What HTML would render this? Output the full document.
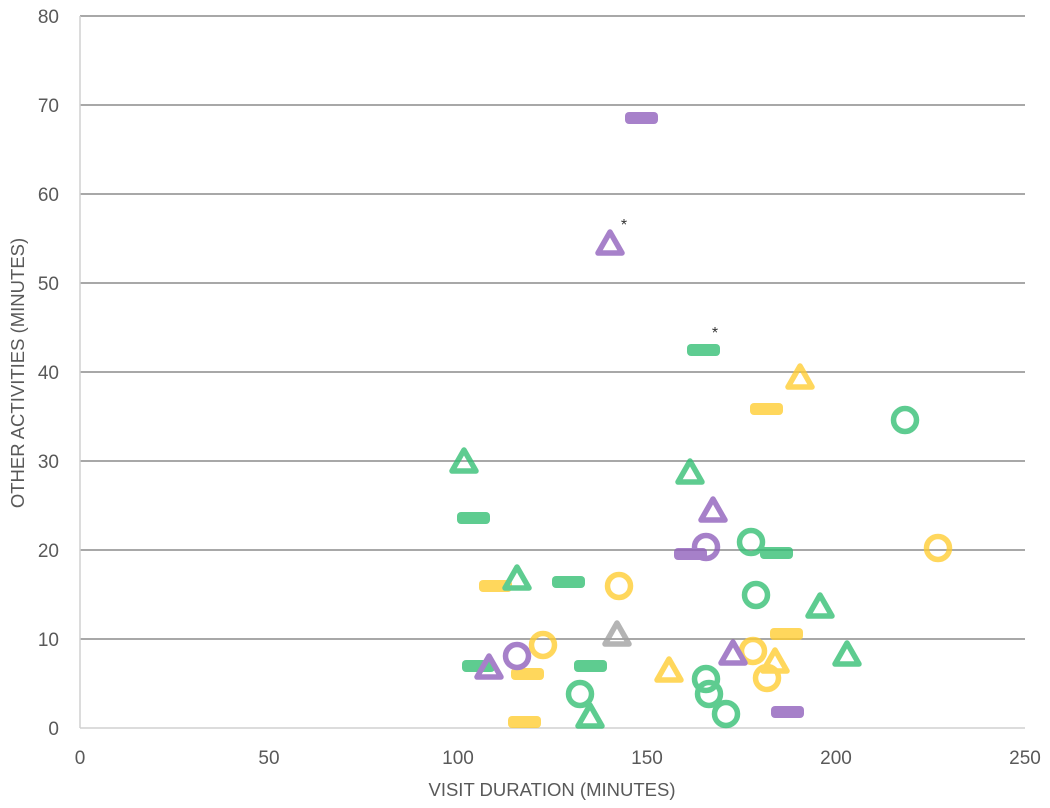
<!DOCTYPE html>
<html><head><meta charset="utf-8"><style>
html,body{margin:0;padding:0;background:#fff;}
svg{display:block;font-family:"Liberation Sans",sans-serif;}
</style></head><body>
<svg width="1050" height="808" viewBox="0 0 1050 808" xmlns="http://www.w3.org/2000/svg">
<g stroke="#8c8c8c" stroke-width="1.6">
<line x1="80" x2="1025" y1="16" y2="16"/><line x1="80" x2="1025" y1="105" y2="105"/>
<line x1="80" x2="1025" y1="194" y2="194"/><line x1="80" x2="1025" y1="283" y2="283"/>
<line x1="80" x2="1025" y1="372" y2="372"/><line x1="80" x2="1025" y1="461" y2="461"/>
<line x1="80" x2="1025" y1="550" y2="550"/><line x1="80" x2="1025" y1="639" y2="639"/>
</g>
<line x1="80" x2="1025" y1="728" y2="728" stroke="#d0d0d0" stroke-width="1.5"/>
<line x1="80" x2="80" y1="16" y2="728" stroke="#d0d0d0" stroke-width="1.5"/>
<g fill="#595959" font-size="19" text-anchor="end">
<text x="59" y="23">80</text><text x="59" y="112">70</text><text x="59" y="201">60</text>
<text x="59" y="290">50</text><text x="59" y="379">40</text><text x="59" y="468">30</text>
<text x="59" y="557">20</text><text x="59" y="646">10</text><text x="59" y="735">0</text>
</g>
<g fill="#595959" font-size="19" text-anchor="middle">
<text x="80" y="764">0</text><text x="269" y="764">50</text><text x="458" y="764">100</text>
<text x="647" y="764">150</text><text x="836" y="764">200</text><text x="1025" y="764">250</text>
</g>
<g fill="#595959" font-size="18.5" text-anchor="middle">
<text x="552" y="796">VISIT DURATION (MINUTES)</text>
<text transform="translate(24,373) rotate(-90)">OTHER ACTIVITIES (MINUTES)</text>
</g>
<g fill="#333" font-size="16" text-anchor="middle">
<text x="624" y="230">*</text><text x="715" y="338">*</text>
</g>
<g opacity="0.78">
<g fill="#8e5dbb">
<rect x="625" y="112" width="33" height="12" rx="4"/>
<rect x="674" y="548" width="33" height="12" rx="4"/>
<rect x="771" y="706" width="33" height="12" rx="4"/>
</g>
<g fill="#31be72">
<rect x="687" y="344" width="33" height="12" rx="4"/>
<rect x="457" y="512" width="33" height="12" rx="4"/>
<rect x="552" y="576" width="33" height="12" rx="4"/>
<rect x="574" y="660" width="33" height="12" rx="4"/>
<rect x="462" y="660" width="33" height="12" rx="4"/>
<rect x="760" y="547" width="33" height="12" rx="4"/>
</g>
<g fill="#ffcc2f">
<rect x="750" y="403" width="33" height="12" rx="4"/>
<rect x="479" y="580" width="33" height="12" rx="4"/>
<rect x="511" y="668" width="33" height="12" rx="4"/>
<rect x="770" y="628" width="33" height="12" rx="4"/>
<rect x="508" y="716" width="33" height="12" rx="4"/>
</g>
<g fill="none" stroke-width="5.5">
<g stroke="#8e5dbb"><circle cx="706" cy="547" r="11.5"/><circle cx="517" cy="656" r="11.5"/></g>
<g stroke="#31be72">
<circle cx="905" cy="420" r="11.5"/><circle cx="751" cy="542" r="11.5"/><circle cx="756" cy="595" r="11.5"/>
<circle cx="580" cy="694" r="11.5"/><circle cx="706" cy="679" r="11.5"/><circle cx="709" cy="694" r="11.5"/>
<circle cx="726" cy="714" r="11.5"/></g>
<g stroke="#ffcc2f">
<circle cx="619" cy="586" r="11.5"/><circle cx="938" cy="548" r="11.5"/><circle cx="543" cy="645" r="11.5"/>
<circle cx="753" cy="651" r="11.5"/><circle cx="767" cy="678" r="11.5"/></g>
</g>
<g fill="none" stroke-width="5.5" stroke-linejoin="round">
<g stroke="#8e5dbb">
<path d="M610,232 L622,253 L598,253 Z"/>
<path d="M713,499 L725,520 L701,520 Z"/>
<path d="M733,642 L745,663 L721,663 Z"/>
<path d="M489,656 L501,677 L477,677 Z"/>
</g>
<g stroke="#31be72">
<path d="M464,450 L476,471 L452,471 Z"/>
<path d="M690,461 L702,482 L678,482 Z"/>
<path d="M517,567 L529,588 L505,588 Z"/>
<path d="M820,595 L832,616 L808,616 Z"/>
<path d="M847,643 L859,664 L835,664 Z"/>
<path d="M590,705 L602,726 L578,726 Z"/>
</g>
<g stroke="#ffcc2f">
<path d="M800,366 L812,387 L788,387 Z"/>
<path d="M669,659 L681,680 L657,680 Z"/>
<path d="M775,650 L787,671 L763,671 Z"/>
</g>
<g stroke="#a0a0a0">
<path d="M617,623 L629,644 L605,644 Z"/>
</g>
</g>
</g>
</svg>
</body></html>
